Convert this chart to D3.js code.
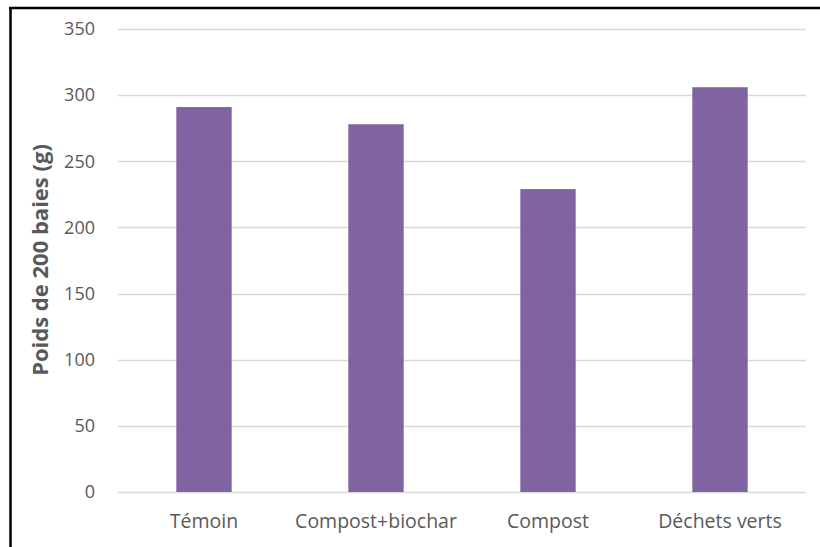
<!DOCTYPE html>
<html>
<head>
<meta charset="utf-8">
<script src="https://cdn.jsdelivr.net/npm/d3@7"></script>
<style>
  html, body { margin: 0; padding: 0; background: #fff; }
  svg { display: block; }
</style>
</head>
<body>
<svg id="chart" width="820" height="547"></svg>
<script>
const categories = ["Témoin", "Compost+biochar", "Compost", "Déchets verts"];
const values = [291, 278, 229, 306];
const yTicks = [0, 50, 100, 150, 200, 250, 300, 350];
const yLabel = "Poids de 200 baies (g)";

const W = 820, H = 547;
const plot = { left: 118, right: 806, top: 29, bottom: 492 };
const font = "'Open Sans', 'Noto Sans', sans-serif";

const svg = d3.select("#chart");

// outer frame (left and top edges)
svg.append("line").attr("x1", 10.5).attr("x2", 10.5).attr("y1", 7).attr("y2", H)
  .attr("stroke", "#000").attr("stroke-width", 2.5);
svg.append("line").attr("x1", 9).attr("x2", W).attr("y1", 8).attr("y2", 8)
  .attr("stroke", "#000").attr("stroke-width", 2.5);

const x = d3.scaleBand().domain(categories).range([plot.left, plot.right]).padding(0);
const y = d3.scaleLinear().domain([0, 350]).range([plot.bottom, plot.top]);

// horizontal gridlines
svg.append("g").selectAll("line").data(yTicks).join("line")
  .attr("x1", plot.left).attr("x2", plot.right)
  .attr("y1", d => Math.round(y(d)) + 0.5).attr("y2", d => Math.round(y(d)) + 0.5)
  .attr("stroke", "#d9d9d9").attr("stroke-width", 1.5);

// y axis tick labels
const yAxis = d3.axisLeft(y).tickValues(yTicks).tickSize(0).tickPadding(0);
const gy = svg.append("g").attr("transform", `translate(${95},0)`).call(yAxis);
gy.select(".domain").remove();
gy.selectAll("text").attr("font-family", font).attr("font-size", 18).attr("fill", "#595959");

// bars
const barW = x.bandwidth() * 0.322;
svg.append("g").selectAll("rect").data(values).join("rect")
  .attr("x", (d, i) => x(categories[i]) + x.bandwidth() / 2 - barW / 2)
  .attr("width", barW)
  .attr("y", d => y(d))
  .attr("height", d => y(0) - y(d))
  .attr("fill", "#8064a2");

// x axis category labels
const xAxis = d3.axisBottom(x).tickSize(0).tickPadding(0);
const gx = svg.append("g").attr("transform", `translate(0,${514})`).call(xAxis);
gx.select(".domain").remove();
gx.selectAll("text").attr("font-family", font).attr("font-size", 19.5).attr("fill", "#595959");

// y axis title
svg.append("text")
  .attr("transform", `translate(48,${260}) rotate(-90)`)
  .attr("text-anchor", "middle")
  .attr("font-family", font).attr("font-size", 22).attr("font-weight", "bold")
  .attr("fill", "#595959")
  .text(yLabel);
</script>
</body>
</html>
